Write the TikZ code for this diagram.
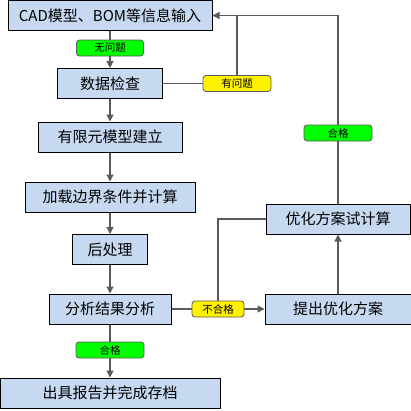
\documentclass[tikz,border=0pt]{standalone}
\usepackage{fontspec}
\setmainfont{Noto Sans CJK SC}
\usetikzlibrary{arrows.meta}
\definecolor{boxblue}{RGB}{198,217,240}
\definecolor{linegray}{RGB}{90,90,90}
\tikzset{
	box/.style={draw=black, line width=1pt, fill=boxblue, minimum height=30pt, inner sep=0pt, font=\fontsize{15}{15}\selectfont},
	tag/.style={draw=linegray, line width=0.8pt, rounded corners=3pt, minimum height=16pt, inner sep=0pt, font=\fontsize{10.5}{10.5}\selectfont},
	okay/.style={tag, fill=green},
	fail/.style={tag, fill=yellow},
	link/.style={draw=linegray, line width=1.2pt},
	flow/.style={link, -{Triangle[length=7pt,width=7pt]}},
}
\begin{document}
\begin{tikzpicture}[x=1pt, y=-1pt]
		\useasboundingbox (0,0) rectangle (411,410);
		\node[box, minimum width=204pt] at (110,15.5) (cad) {CAD模型、BOM等信息输入};
		\node[okay, minimum width=67pt] at (110,48) (ok1) {无问题};
		\node[box, minimum width=105pt] at (110,83.5) (chk) {数据检查};
		\node[fail, minimum width=68pt] at (237,83.5) (bad1) {有问题};
		\node[box, minimum width=144pt] at (110,137) (fem) {有限元模型建立};
		\node[box, minimum width=170pt] at (110,197) (load) {加载边界条件并计算};
		\node[box, minimum width=75pt] at (110,249.5) (post) {后处理};
		\node[box, minimum width=122pt] at (110,309) (ana) {分析结果分析};
		\node[fail, minimum width=52pt] at (218,309) (bad2) {不合格};
		\node[box, minimum width=146pt] at (338,309) (prop) {提出优化方案};
		\node[box, minimum width=144pt] at (338,219) (trial) {优化方案试计算};
		\node[okay, minimum width=68pt] at (338,133) (ok2) {合格};
		\node[okay, minimum width=68pt] at (110,350) (ok3) {合格};
		\node[box, minimum width=220pt] at (110,393) (rep) {出具报告并完成存档};

		\draw[link] (cad) -- (ok1);
		\draw[flow] (ok1) -- (chk);
		\draw[link] (chk) -- (bad1);
		\draw[link] (bad1.north) |- (cad.east);
		\draw[flow] (chk) -- (fem);
		\draw[flow] (fem) -- (load);
		\draw[flow] (load) -- (post);
		\draw[flow] (post) -- (ana);
		\draw[link] (ana) -- (bad2);
		\draw[flow] (bad2) -- (prop);
		\draw[link] (bad2.north) |- (trial.west);
		\draw[flow] (prop) -- (trial);
		\draw[link] (trial) -- (ok2);
		\draw[flow] (ok2.north) |- (cad.east);
		\draw[link] (ana) -- (ok3);
		\draw[flow] (ok3) -- (rep);
	\end{tikzpicture}
\end{document}
